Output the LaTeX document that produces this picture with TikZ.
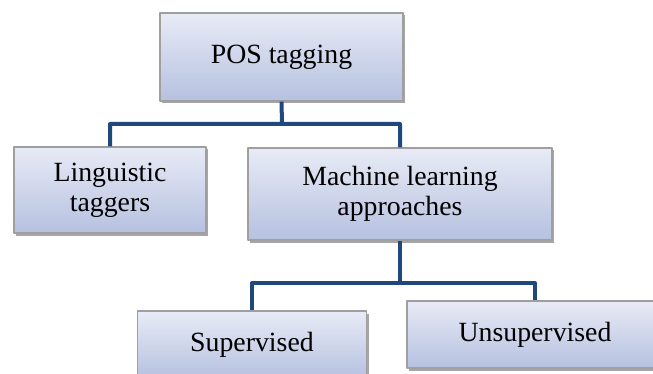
\documentclass[tikz,border=0pt]{standalone}
\usepackage{fontspec}
\setmainfont{Liberation Serif}
\usetikzlibrary{shadows}
\definecolor{linkblue}{RGB}{31,73,125}
\definecolor{boxtop}{RGB}{232,235,246}
\definecolor{boxbot}{RGB}{182,193,224}
\begin{document}
\begin{tikzpicture}[x=1pt,y=-1pt,line join=round,
	box/.style={draw=gray!75,line width=1.2pt,top color=boxtop,bottom color=boxbot,
		drop shadow={shadow xshift=2pt,shadow yshift=-2.5pt,fill=black,opacity=.35},
		align=center,inner sep=0pt,font=\fontsize{27.8}{30}\selectfont},
	link/.style={draw=linkblue,line width=4pt}]
	\useasboundingbox (0,0) rectangle (653,374);
	\clip (0,0) rectangle (653,374);
	\node[box,minimum width=243pt,minimum height=88pt] (pos) at (281.5,57) {POS tagging};
	\node[box,minimum width=192pt,minimum height=86pt] (ling) at (110,190) {Linguistic\\taggers};
	\node[box,minimum width=304pt,minimum height=92pt] (ml) at (400,194) {Machine learning\\approaches};
	\node[box,minimum width=229pt,minimum height=67pt] (sup) at (252,344.5) {Supervised};
	\node[box,minimum width=256pt,minimum height=67pt] (uns) at (535,334.5) {Unsupervised};
	\path
	(282,124)coordinate (j1)
	(400,283)coordinate (j2)
		;
	\draw[link] (pos.south)--(j1) (ling.north) |- (j1) -| (ml.north);
	\draw[link] (ml.south)--(j2) (sup.north) |- (j2) -| (uns.north);
\end{tikzpicture}
\end{document}
